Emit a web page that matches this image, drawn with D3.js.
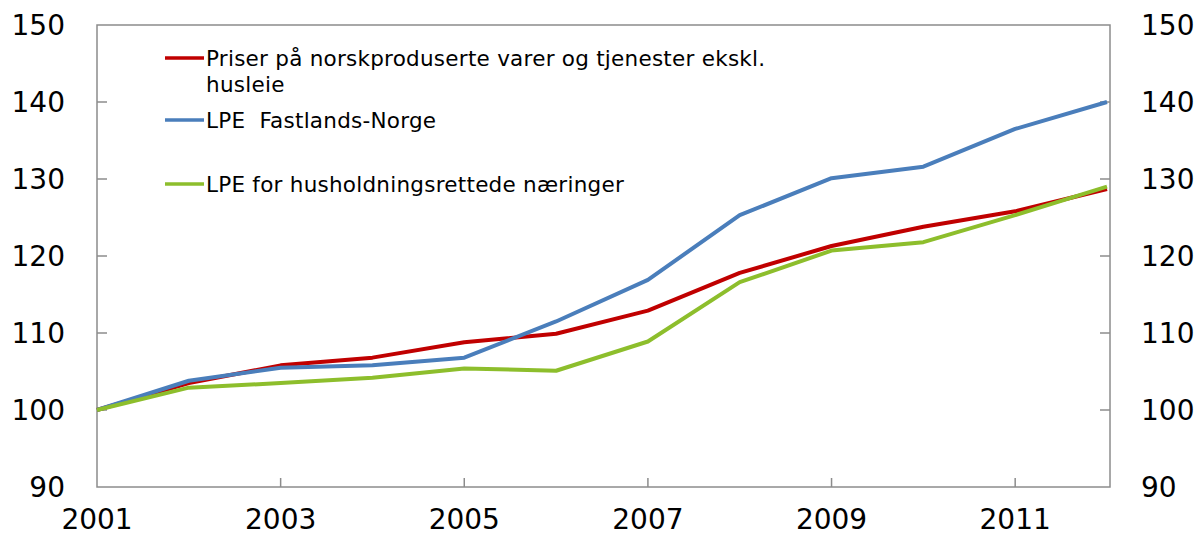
<!DOCTYPE html>
<html>
<head>
<meta charset="utf-8">
<script src="https://cdn.jsdelivr.net/npm/d3@7"></script>
<style>
  body { margin: 0; background: #fff; }
  .tick-label { font-family: "DejaVu Sans", sans-serif; font-size: 28px; fill: #000; }
  .legend-text { font-family: "DejaVu Sans", sans-serif; font-size: 21.5px; letter-spacing: 0.25px; fill: #000; white-space: pre; }
</style>
</head>
<body>
<div class="chart"></div>
<script>
// Data
var years = [2001, 2002, 2003, 2004, 2005, 2006, 2007, 2008, 2009, 2010, 2011, 2012];
var priser = [100, 103.5, 105.8, 106.8, 108.8, 109.9, 112.9, 117.8, 121.3, 123.8, 125.8, 128.7];
var lpeFastland = [100, 103.8, 105.5, 105.8, 106.8, 111.5, 116.9, 125.3, 130.1, 131.6, 136.5, 140.0];
var lpeHushold = [100, 102.9, 103.5, 104.2, 105.4, 105.1, 108.9, 116.6, 120.7, 121.8, 125.3, 129.0];
var yTicks = [90, 100, 110, 120, 130, 140, 150];
var xTicks = [2001, 2003, 2005, 2007, 2009, 2011];

var series = [
  { name: ["Priser på norskproduserte varer og tjenester ekskl.", "husleie"], values: priser, color: "#C00000" },
  { name: ["LPE  Fastlands-Norge"], values: lpeFastland, color: "#4A7EBB" },
  { name: ["LPE for husholdningsrettede næringer"], values: lpeHushold, color: "#8DBE2C" }
];

var svgWidth = 1201;
var svgHeight = 536;
var margin = { top: 25, right: 91, bottom: 49, left: 97 };
var width = svgWidth - margin.left - margin.right;
var height = svgHeight - margin.top - margin.bottom;

var svg = d3.select(".chart")
  .append("svg")
  .attr("width", svgWidth)
  .attr("height", svgHeight);

var chart = svg.append("g")
  .attr("transform", "translate(" + margin.left + "," + margin.top + ")");

var xScale = d3.scaleLinear().domain([2001, 2012]).range([0, width - 3]);
var yScale = d3.scaleLinear().domain([90, 150]).range([height, 0]);

var axisColor = "#8c8c8c";

// frame
chart.append("rect")
  .attr("width", width)
  .attr("height", height)
  .attr("fill", "none")
  .attr("stroke", axisColor)
  .attr("stroke-width", 1.5);

// y ticks, inside on both sides
yTicks.forEach(function (t) {
  if (t === 90 || t === 150) return;
  chart.append("line")
    .attr("x1", 0).attr("x2", 10)
    .attr("y1", yScale(t)).attr("y2", yScale(t))
    .attr("stroke", axisColor).attr("stroke-width", 1.5);
  chart.append("line")
    .attr("x1", width - 10).attr("x2", width)
    .attr("y1", yScale(t)).attr("y2", yScale(t))
    .attr("stroke", axisColor).attr("stroke-width", 1.5);
});

// x ticks, pointing up
xTicks.forEach(function (t) {
  if (t === 2001) return;
  chart.append("line")
    .attr("x1", xScale(t)).attr("x2", xScale(t))
    .attr("y1", height).attr("y2", height - 9)
    .attr("stroke", axisColor).attr("stroke-width", 1.5);
});

// y labels, left and right
chart.selectAll(".ylab-left")
  .data(yTicks)
  .enter()
  .append("text")
  .attr("class", "tick-label")
  .attr("x", -32)
  .attr("y", function (d) { return yScale(d); })
  .attr("dy", "0.36em")
  .attr("text-anchor", "end")
  .text(function (d) { return d; });

chart.selectAll(".ylab-right")
  .data(yTicks)
  .enter()
  .append("text")
  .attr("class", "tick-label")
  .attr("x", width + 31)
  .attr("y", function (d) { return yScale(d); })
  .attr("dy", "0.36em")
  .attr("text-anchor", "start")
  .text(function (d) { return d; });

// x labels
chart.selectAll(".xlab")
  .data(xTicks)
  .enter()
  .append("text")
  .attr("class", "tick-label")
  .attr("x", function (d) { return xScale(d); })
  .attr("y", height + 42)
  .attr("text-anchor", "middle")
  .text(function (d) { return d; });

// lines
var line = d3.line()
  .x(function (d, i) { return xScale(years[i]); })
  .y(function (d) { return yScale(d); });

series.forEach(function (s) {
  chart.append("path")
    .datum(s.values)
    .attr("d", line)
    .attr("fill", "none")
    .attr("stroke", s.color)
    .attr("stroke-width", 4)
    .attr("stroke-linejoin", "round");
});

// legend
var legendRows = [33, 95, 159];
series.forEach(function (s, i) {
  var ly = legendRows[i];
  chart.append("line")
    .attr("x1", 68).attr("x2", 107)
    .attr("y1", ly).attr("y2", ly)
    .attr("stroke", s.color)
    .attr("stroke-width", 3.5);
  s.name.forEach(function (txt, j) {
    chart.append("text")
      .attr("class", "legend-text")
      .attr("x", 109)
      .attr("y", ly + 8 + j * 26)
      .text(txt);
  });
});
</script>
</body>
</html>
